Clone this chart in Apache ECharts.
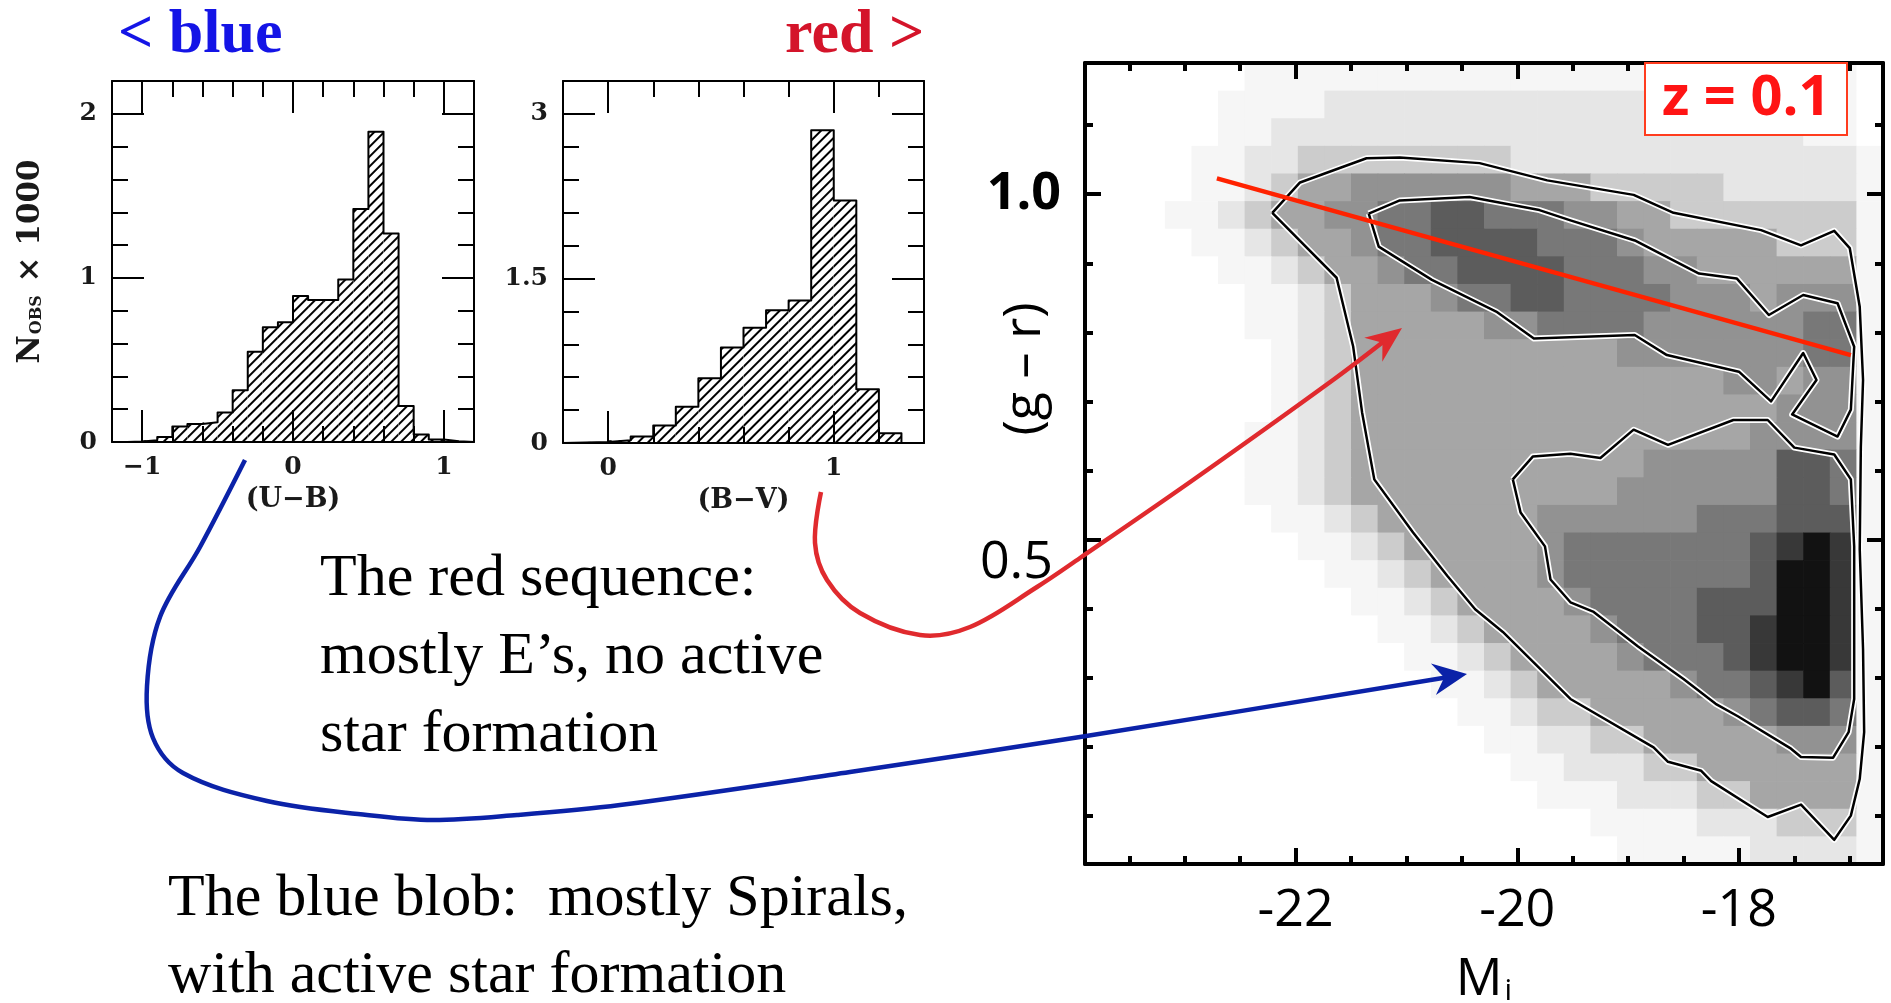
<!DOCTYPE html>
<html><head><meta charset="utf-8">
<script src="https://cdn.jsdelivr.net/npm/echarts@6/dist/echarts.min.js"></script>
<style>html,body{margin:0;padding:0;background:#fff}#c{width:1891px;height:1003px}</style>
</head><body><div id="c"></div>
<script>
// ================= DATA =================
// Histogram 1: (U-B) colour, bins of 0.1 starting at -1.2
const ubBinStart = -1.2, ubBinWidth = 0.1;
const ubCounts = [0, 0.003, 0.01, 0.03, 0.095, 0.11, 0.12, 0.18, 0.315, 0.55, 0.70, 0.73,
                  0.89, 0.865, 0.865, 0.99, 1.42, 1.89, 1.27, 0.22, 0.045, 0.015, 0.005, 0];
const ubMajorTicks = [-1, 0, 1];
const ubMinorTicks = [-1.2, -1.0, -0.8, -0.6, -0.4, -0.2, 0, 0.2, 0.4, 0.6, 0.8, 1.0, 1.2];
const n1MajorTicks = [0, 1, 2];
const n1MinorTicks = [0, 0.2, 0.4, 0.6, 0.8, 1.0, 1.2, 1.4, 1.6, 1.8, 2.0, 2.2];

// Histogram 2: (B-V) colour, bins of 0.1 starting at -0.2
const bvBinStart = -0.2, bvBinWidth = 0.1;
const bvCounts = [0.005, 0.01, 0.025, 0.06, 0.16, 0.33, 0.59, 0.87, 1.05, 1.21, 1.30, 2.85, 2.21, 0.49, 0.09, 0];
const bvMajorTicks = [0, 1];
const bvMinorTicks = [-0.2, 0, 0.2, 0.4, 0.6, 0.8, 1.0, 1.2, 1.4];
const n2MajorTicks = [0, 1.5, 3];
const n2MinorTicks = [0, 0.3, 0.6, 0.9, 1.2, 1.5, 1.8, 2.1, 2.4, 2.7, 3.0, 3.3];

// Colour-magnitude density map (g-r vs M_i), grey level 0 (white) .. 9 (black)
const magBins = [-23.78, -23.54, -23.30, -23.06, -22.82, -22.58, -22.34, -22.10, -21.86, -21.62,
                 -21.38, -21.14, -20.90, -20.66, -20.42, -20.18, -19.94, -19.70, -19.46, -19.22,
                 -18.98, -18.74, -18.50, -18.26, -18.02, -17.78, -17.54, -17.30, -17.06, -16.82];
const grBins = [1.17, 1.13, 1.09, 1.05, 1.01, 0.97, 0.93, 0.89, 0.85, 0.81, 0.77, 0.73, 0.69, 0.65, 0.61,
                0.57, 0.53, 0.49, 0.45, 0.41, 0.37, 0.33, 0.29, 0.25, 0.21, 0.17, 0.13, 0.09, 0.05];
const densityRows = [
  "000000111111111111111111111110",
  "000001111222222222222211111110",
  "000001122222222222222222222110",
  "000011223333333322222222222221",
  "000011234455555544433333222221",
  "000112344556677666554433333331",
  "000011234456677776665444443331",
  "000001123445667777666554444441",
  "000000112344456677666655545551",
  "000000112344444556666555555661",
  "000000012344444444445555555661",
  "000000012344444444444444554551",
  "000000012344444444444444445551",
  "000000112344444444444444455551",
  "000000112344444444444555557761",
  "000000112344444444445555557761",
  "000000011234444445555556667771",
  "000000001123444445666666678981",
  "000000000112344445666666679981",
  "000000000011234444566667779981",
  "000000000001123444456667789981",
  "000000000000112344445666789981",
  "000000000000011234444456678971",
  "000000000000001123344444567761",
  "000000000000000112233444445551",
  "000000000000000011222334444441",
  "000000000000000001112223344441",
  "000000000000000000011112223331",
  "000000000000000000001111122221"
];
const outerContour = [[-22.21,0.973],[-21.96,1.017],[-21.36,1.052],[-21.06,1.053],[-20.34,1.045],[-19.73,1.020],
  [-18.95,0.999],[-18.59,0.973],[-17.80,0.948],[-17.44,0.926],[-17.14,0.947],[-17.00,0.922],[-16.91,0.837],
  [-16.88,0.731],[-16.90,0.634],[-16.91,0.486],[-16.88,0.341],[-16.87,0.221],[-16.91,0.153],[-16.99,0.100],
  [-17.14,0.065],[-17.44,0.116],[-17.74,0.098],[-18.25,0.150],[-18.34,0.165],[-18.64,0.178],[-18.77,0.199],
  [-19.52,0.269],[-20.13,0.366],[-20.38,0.399],[-20.63,0.447],[-20.94,0.510],[-21.29,0.587],[-21.40,0.684],
  [-21.48,0.779],[-21.63,0.879],[-22.21,0.973]];
const redInnerContour = [[-21.34,0.972],[-21.06,0.991],[-20.43,0.996],[-19.80,0.977],[-19.52,0.962],[-18.94,0.933],
  [-18.36,0.885],[-18.02,0.878],[-17.73,0.825],[-17.42,0.854],[-17.11,0.842],[-16.96,0.779],[-16.99,0.688],
  [-17.11,0.649],[-17.52,0.681],[-17.30,0.731],[-17.42,0.770],[-17.71,0.700],[-18.00,0.743],[-18.65,0.767],
  [-18.94,0.796],[-19.85,0.791],[-20.19,0.830],[-20.77,0.876],[-21.25,0.924],[-21.34,0.972]];
const blueInnerContour = [[-20.04,0.587],[-19.86,0.620],[-19.52,0.624],[-19.25,0.618],[-18.95,0.659],[-18.64,0.637],
  [-18.05,0.673],[-17.74,0.673],[-17.50,0.633],[-17.14,0.623],[-16.99,0.587],[-16.96,0.490],[-16.96,0.370],
  [-16.96,0.269],[-17.01,0.221],[-17.15,0.184],[-17.44,0.185],[-17.53,0.197],[-18.01,0.244],[-18.21,0.262],
  [-18.50,0.298],[-18.91,0.345],[-19.31,0.395],[-19.52,0.409],[-19.70,0.442],[-19.75,0.490],[-19.97,0.539],
  [-20.04,0.587]];
const redSequenceFit = [[-22.71, 1.023], [-16.99, 0.767]];
const magMajorTicks = [-22, -20, -18];
const magMinorTicks = [-23.5, -23, -22.5, -22, -21.5, -21, -20.5, -20, -19.5, -19, -18.5, -18, -17.5, -17];
const grMajorTicks = [0.5, 1.0];
const grMinorTicks = [0.1, 0.2, 0.3, 0.4, 0.5, 0.6, 0.7, 0.8, 0.9, 1.0, 1.1];

// ================= STYLE / LAYOUT =================
const SERIF = "'Liberation Serif', 'DejaVu Serif', serif";
const SCAN = "'DejaVu Serif', 'Liberation Serif', serif";
const SANS = "'Open Sans', 'DejaVu Sans', sans-serif";
const grayLevels = [255, 246, 230, 204, 166, 146, 120, 92, 56, 18];
const cellW = 0.24, cellH = 0.04;

const chart = echarts.init(document.getElementById('c'), null, { renderer: 'canvas' });

const grids = [
  { left: 112, top: 81, width: 362, height: 361, outerBoundsMode: 'none' },
  { left: 563, top: 81, width: 361, height: 362, outerBoundsMode: 'none' },
  { left: 1085, top: 63, width: 798, height: 801, outerBoundsMode: 'none' }
];
const xAxes = [], yAxes = [];
function push(list, a) { list.push(a); return list.length - 1; }
function tickAxis(o) {
  return {
    type: 'value', gridIndex: o.grid, position: o.pos, min: o.min, max: o.max, z: 10,
    axisLine: { show: !!o.line, onZero: false, lineStyle: { color: '#000', width: o.line || 1 } },
    axisTick: { show: true, inside: true, length: o.len, customValues: o.ticks, lineStyle: { color: '#000', width: o.lw } },
    axisLabel: o.label || { show: false },
    splitLine: { show: false },
    name: o.name || '', nameLocation: 'middle', nameGap: o.nameGap || 0, nameRotate: o.nameRotate,
    nameTextStyle: o.nameTextStyle || {}
  };
}
const minusFmt = v => (v < 0 ? '\u2212' + Math.abs(v) : String(v));
const histLabel = (vals, margin) => ({ show: true, customValues: vals, margin, formatter: minusFmt,
  fontFamily: SCAN, fontSize: 25, fontWeight: 'bold', color: '#1a1a1a' });
const histName = { fontFamily: SCAN, fontSize: 27, fontWeight: 'bold', color: '#1a1a1a' };

// ---- Histogram 1 axes
const catX1 = push(xAxes, { type: 'category', gridIndex: 0, show: false, data: ubCounts.map((_, i) => 'b' + i) });
const x1 = push(xAxes, tickAxis({ grid: 0, pos: 'bottom', min: -1.2, max: 1.2, ticks: ubMajorTicks, len: 32, lw: 2, line: 2,
  label: histLabel(ubMajorTicks, 13), name: '(U\u2212B)', nameGap: 44, nameTextStyle: histName }));
push(xAxes, tickAxis({ grid: 0, pos: 'bottom', min: -1.2, max: 1.2, ticks: ubMinorTicks, len: 16, lw: 2 }));
push(xAxes, tickAxis({ grid: 0, pos: 'top', min: -1.2, max: 1.2, ticks: ubMajorTicks, len: 32, lw: 2, line: 2 }));
push(xAxes, tickAxis({ grid: 0, pos: 'top', min: -1.2, max: 1.2, ticks: ubMinorTicks, len: 16, lw: 2 }));
const y1 = push(yAxes, tickAxis({ grid: 0, pos: 'left', min: 0, max: 2.2, ticks: n1MajorTicks, len: 32, lw: 2, line: 2,
  label: histLabel(n1MajorTicks, 15), name: '{n|N}{s|OBS}{n| \u00d7 1000}', nameGap: 66, nameRotate: 90,
  nameTextStyle: { rich: { n: { fontFamily: SCAN, fontSize: 31, fontWeight: 'bold', color: '#1a1a1a' },
                           s: { fontFamily: SCAN, fontSize: 16, fontWeight: 'bold', color: '#1a1a1a', padding: [12, 2, 0, 1] } } } }));
push(yAxes, tickAxis({ grid: 0, pos: 'left', min: 0, max: 2.2, ticks: n1MinorTicks, len: 16, lw: 2 }));
push(yAxes, tickAxis({ grid: 0, pos: 'right', min: 0, max: 2.2, ticks: n1MajorTicks, len: 32, lw: 2, line: 2 }));
push(yAxes, tickAxis({ grid: 0, pos: 'right', min: 0, max: 2.2, ticks: n1MinorTicks, len: 16, lw: 2 }));

// ---- Histogram 2 axes
const catX2 = push(xAxes, { type: 'category', gridIndex: 1, show: false, data: bvCounts.map((_, i) => 'b' + i) });
const x2 = push(xAxes, tickAxis({ grid: 1, pos: 'bottom', min: -0.2, max: 1.4, ticks: bvMajorTicks, len: 32, lw: 2, line: 2,
  label: histLabel(bvMajorTicks, 13), name: '(B\u2212V)', nameGap: 44, nameTextStyle: histName }));
push(xAxes, tickAxis({ grid: 1, pos: 'bottom', min: -0.2, max: 1.4, ticks: bvMinorTicks, len: 16, lw: 2 }));
push(xAxes, tickAxis({ grid: 1, pos: 'top', min: -0.2, max: 1.4, ticks: bvMajorTicks, len: 32, lw: 2, line: 2 }));
push(xAxes, tickAxis({ grid: 1, pos: 'top', min: -0.2, max: 1.4, ticks: bvMinorTicks, len: 16, lw: 2 }));
const y2 = push(yAxes, tickAxis({ grid: 1, pos: 'left', min: 0, max: 3.3, ticks: n2MajorTicks, len: 32, lw: 2, line: 2,
  label: histLabel(n2MajorTicks, 15) }));
push(yAxes, tickAxis({ grid: 1, pos: 'left', min: 0, max: 3.3, ticks: n2MinorTicks, len: 16, lw: 2 }));
push(yAxes, tickAxis({ grid: 1, pos: 'right', min: 0, max: 3.3, ticks: n2MajorTicks, len: 32, lw: 2, line: 2 }));
push(yAxes, tickAxis({ grid: 1, pos: 'right', min: 0, max: 3.3, ticks: n2MinorTicks, len: 16, lw: 2 }));

// ---- Density panel axes
const xD = push(xAxes, tickAxis({ grid: 2, pos: 'bottom', min: -23.9, max: -16.7, ticks: magMajorTicks, len: 16, lw: 4, line: 4,
  label: { show: true, customValues: magMajorTicks, margin: 21, formatter: v => String(v),
           fontFamily: SANS, fontSize: 52, color: '#000' },
  name: '{m|M}{s|i}', nameGap: 90,
  nameTextStyle: { rich: { m: { fontFamily: SANS, fontSize: 52, color: '#000' },
                           s: { fontFamily: SANS, fontSize: 30, color: '#000', padding: [22, 0, 0, 2] } } } }));
push(xAxes, tickAxis({ grid: 2, pos: 'bottom', min: -23.9, max: -16.7, ticks: magMinorTicks, len: 8, lw: 4 }));
push(xAxes, tickAxis({ grid: 2, pos: 'top', min: -23.9, max: -16.7, ticks: magMajorTicks, len: 16, lw: 4, line: 4 }));
push(xAxes, tickAxis({ grid: 2, pos: 'top', min: -23.9, max: -16.7, ticks: magMinorTicks, len: 8, lw: 4 }));
const yD = push(yAxes, tickAxis({ grid: 2, pos: 'left', min: 0.03, max: 1.19, ticks: grMajorTicks, len: 16, lw: 4, line: 4,
  label: { show: true, customValues: grMajorTicks, margin: 24,
           formatter: v => (v > 0.9 ? '{b|1.0}' : '{n|0.5}'),
           rich: { b: { fontFamily: SANS, fontSize: 52, fontWeight: 'bold', color: '#000' },
                   n: { fontFamily: SANS, fontSize: 52, color: '#000', padding: [48, 8, 0, 0] } } } }));
push(yAxes, tickAxis({ grid: 2, pos: 'left', min: 0.03, max: 1.19, ticks: grMinorTicks, len: 8, lw: 4 }));
push(yAxes, tickAxis({ grid: 2, pos: 'right', min: 0.03, max: 1.19, ticks: grMajorTicks, len: 16, lw: 4, line: 4 }));
push(yAxes, tickAxis({ grid: 2, pos: 'right', min: 0.03, max: 1.19, ticks: grMinorTicks, len: 8, lw: 4 }));

// ---- helpers
function stepOutline(start, width, counts) {
  const pts = [[start, 0]];
  counts.forEach((v, i) => { const x0 = start + i * width; pts.push([x0, v], [x0 + width, v]); });
  pts.push([start + counts.length * width, 0]);
  return pts;
}
const hatch = { symbol: 'rect', symbolSize: 1, color: '#000', dashArrayX: [1, 0], dashArrayY: [2, 5], rotation: -Math.PI / 4 };
const densityData = [];
densityRows.forEach((row, r) => {
  magBins.forEach((m, c) => { densityData.push([m, grBins[r], parseInt(row[c] || '0', 10)]); });
});
function lineSeries(data, xi, yi, color, width, z) {
  return { type: 'line', xAxisIndex: xi, yAxisIndex: yi, data, symbol: 'none', showSymbol: false, silent: true,
           lineStyle: { color, width, join: 'round' }, z, animation: false };
}
function arrowHead(tip, from, len, half, color) {
  const dx = tip[0] - from[0], dy = tip[1] - from[1], L = Math.hypot(dx, dy);
  const ux = dx / L, uy = dy / L, px = -uy, py = ux;
  const bx = tip[0] - ux * len, by = tip[1] - uy * len;
  const nx = tip[0] - ux * len * 0.68, ny = tip[1] - uy * len * 0.68;
  return { type: 'polygon', z: 100, shape: { points: [tip, [bx + px * half, by + py * half], [nx, ny], [bx - px * half, by - py * half]] },
           style: { fill: color } };
}
const redCurve = [[821, 492], [815, 543], [827, 580], [860, 613], [920, 635], [970, 627], [1037, 587], [1080, 558], [1193, 480], [1333, 380], [1392, 335]];
const blueCurve = [[245, 460], [200, 547], [160, 617], [147, 686], [153, 738], [183, 773], [267, 801], [367, 815], [433, 820], [517, 815], [620, 805], [850, 772], [1080, 737], [1455, 676]];
const RED = '#e02a2e', BLUE = '#0b22a8';

const series = [
  { type: 'bar', xAxisIndex: catX1, yAxisIndex: y1, data: ubCounts, barCategoryGap: '0%', barGap: '0%', silent: true,
    itemStyle: { color: '#fff', decal: hatch }, z: 2, animation: false },
  lineSeries(stepOutline(ubBinStart, ubBinWidth, ubCounts), x1, y1, '#000', 2, 3),
  { type: 'bar', xAxisIndex: catX2, yAxisIndex: y2, data: bvCounts, barCategoryGap: '0%', barGap: '0%', silent: true,
    itemStyle: { color: '#fff', decal: hatch }, z: 2, animation: false },
  lineSeries(stepOutline(bvBinStart, bvBinWidth, bvCounts), x2, y2, '#000', 2, 3),
  { type: 'custom', xAxisIndex: xD, yAxisIndex: yD, data: densityData, silent: true, z: 1, animation: false,
    renderItem: (params, api) => {
      const x = api.value(0), y = api.value(1), v = api.value(2);
      const p0 = api.coord([x - cellW / 2, y + cellH / 2]);
      const p1 = api.coord([x + cellW / 2, y - cellH / 2]);
      const g = grayLevels[v];
      return { type: 'rect', shape: { x: p0[0], y: p0[1], width: p1[0] - p0[0] + 0.7, height: p1[1] - p0[1] + 0.7 },
               style: { fill: 'rgb(' + g + ',' + g + ',' + g + ')' } };
    } },
  lineSeries(outerContour, xD, yD, '#fff', 6, 3),
  lineSeries(redInnerContour, xD, yD, '#fff', 6, 3),
  lineSeries(blueInnerContour, xD, yD, '#fff', 6, 3),
  lineSeries(outerContour, xD, yD, '#000', 2.5, 4),
  lineSeries(redInnerContour, xD, yD, '#000', 2.5, 4),
  lineSeries(blueInnerContour, xD, yD, '#000', 2.5, 4),
  lineSeries(redSequenceFit, xD, yD, '#ff2200', 4.5, 5)
];

const graphics = [
  { type: 'text', x: 118, y: 36, z: 100, style: { text: '< blue', fontFamily: SERIF, fontWeight: 'bold', fontSize: 62, fill: '#1414e6', align: 'left', verticalAlign: 'middle' } },
  { type: 'text', x: 785, y: 36, z: 100, style: { text: 'red >', fontFamily: SERIF, fontWeight: 'bold', fontSize: 62, fill: '#d4142a', align: 'left', verticalAlign: 'middle' } },
  { type: 'text', x: 320, y: 579, z: 100, style: { text: 'The red sequence:', fontFamily: SERIF, fontSize: 60, fill: '#000', align: 'left', verticalAlign: 'middle' } },
  { type: 'text', x: 320, y: 657, z: 100, style: { text: 'mostly E\u2019s, no active', fontFamily: SERIF, fontSize: 60, fill: '#000', align: 'left', verticalAlign: 'middle' } },
  { type: 'text', x: 320, y: 735, z: 100, style: { text: 'star formation', fontFamily: SERIF, fontSize: 60, fill: '#000', align: 'left', verticalAlign: 'middle' } },
  { type: 'text', x: 168, y: 899, z: 100, style: { text: 'The blue blob:  mostly Spirals,', fontFamily: SERIF, fontSize: 60, fill: '#000', align: 'left', verticalAlign: 'middle' } },
  { type: 'text', x: 168, y: 976, z: 100, style: { text: 'with active star formation', fontFamily: SERIF, fontSize: 60, fill: '#000', align: 'left', verticalAlign: 'middle' } },
  { type: 'text', x: 1025, y: 369, rotation: Math.PI / 2, z: 100, style: { text: '(g \u2013 r)', fontFamily: SANS, fontSize: 52, fill: '#000', align: 'center', verticalAlign: 'middle' } },
  { type: 'polyline', z: 100, shape: { points: redCurve, smooth: 0.35 }, style: { stroke: RED, lineWidth: 4.5, fill: null } },
  arrowHead([1402, 328], [1333, 380], 36, 15, RED),
  { type: 'polyline', z: 100, shape: { points: blueCurve, smooth: 0.35 }, style: { stroke: BLUE, lineWidth: 4.5, fill: null } },
  arrowHead([1467, 674], [1080, 735], 34, 16, BLUE)
];

chart.setOption({
  backgroundColor: '#fff',
  animation: false,
  title: { text: 'z = 0.1', left: 1645, top: 63, padding: [8, 17, 8, 17], backgroundColor: '#fff',
           borderColor: '#ff3c1e', borderWidth: 2, z: 20,
           textStyle: { fontFamily: SANS, fontSize: 56, fontWeight: 'bold', color: '#ff1414' } },
  grid: grids,
  xAxis: xAxes,
  yAxis: yAxes,
  series,
  graphic: { elements: graphics }
});
</script>
</body></html>
